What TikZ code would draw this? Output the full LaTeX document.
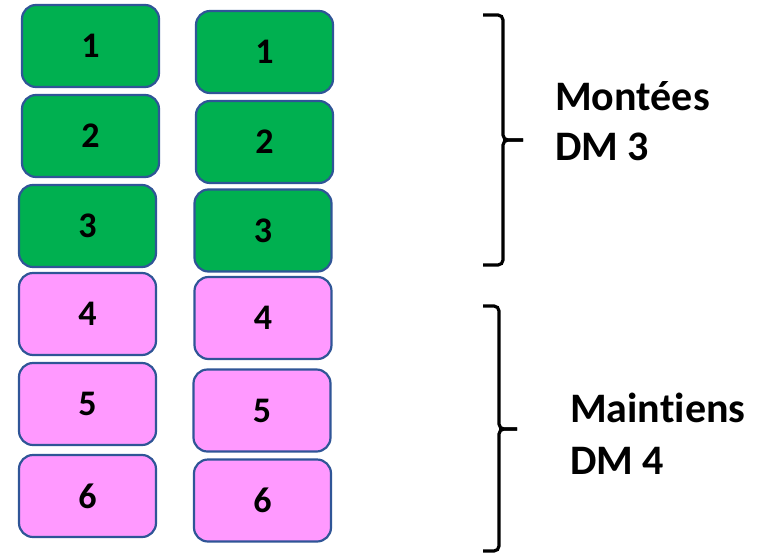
\documentclass[tikz,border=0pt]{standalone}
\usepackage{fontspec}
\setmainfont[Ligatures=NoCommon]{Carlito}
\definecolor{boxgreen}{HTML}{00B050}
\definecolor{boxpink}{HTML}{FF99FF}
\definecolor{boxedge}{HTML}{2F5597}
\begin{document}
\begin{tikzpicture}[x=1pt,y=-1pt,
  card/.style={draw=boxedge,line width=2.2pt,rounded corners=14pt,minimum width=137pt,minimum height=82pt,inner sep=0pt,font=\fontsize{36}{40}\selectfont\bfseries},
  greencard/.style={card,fill=boxgreen},
  pinkcard/.style={card,fill=boxpink},
  bracepath/.style={draw=black,line width=3.2pt,rounded corners=5pt},
  lbl/.style={anchor=base west,inner sep=0pt,font=\fontsize{42}{48}\selectfont\bfseries}]
\useasboundingbox (0,0) rectangle (760,557);
% left column
\node[greencard] (l1) at (90.5,46) {1};
\node[greencard] (l2) at (90.5,136) {2};
\node[greencard] (l3) at (87.5,226) {3};
\node[pinkcard] (l4) at (87.5,314) {4};
\node[pinkcard] (l5) at (87.5,404) {5};
\node[pinkcard] (l6) at (87.5,496) {6};
% right column
\node[greencard] (r1) at (264.5,52) {1};
\node[greencard] (r2) at (264.5,142) {2};
\node[greencard] (r3) at (263,230.5) {3};
\node[pinkcard] (r4) at (263,318) {4};
\node[pinkcard] (r5) at (262,410.5) {5};
\node[pinkcard] (r6) at (262.5,500.5) {6};
% top brace
\coordinate (tb1) at (483,15);
\coordinate (tb2) at (503,15);
\coordinate (tb3) at (503,140);
\coordinate (tbt) at (523,140);
\coordinate (tb4) at (503,265);
\coordinate (tb5) at (483,265);
\draw[bracepath] (tb1) -- (tb2) -- (tb3) -- (tbt);
\draw[bracepath] (tbt) -- (tb3) -- (tb4) -- (tb5);
% bottom brace
\coordinate (bb1) at (483,306);
\coordinate (bb2) at (499,306);
\coordinate (bb3) at (499,429);
\coordinate (bbt) at (517,429);
\coordinate (bb4) at (499,551);
\coordinate (bb5) at (483,551);
\draw[bracepath] (bb1) -- (bb2) -- (bb3) -- (bbt);
\draw[bracepath] (bbt) -- (bb3) -- (bb4) -- (bb5);
% labels
\node[lbl] (m1) at (555,110) {Montées};
\node[lbl] (m2) at (555,160) {DM 3};
\node[lbl] (n1) at (570,422) {Maintiens};
\node[lbl] (n2) at (570,474) {DM 4};
\end{tikzpicture}
\end{document}
